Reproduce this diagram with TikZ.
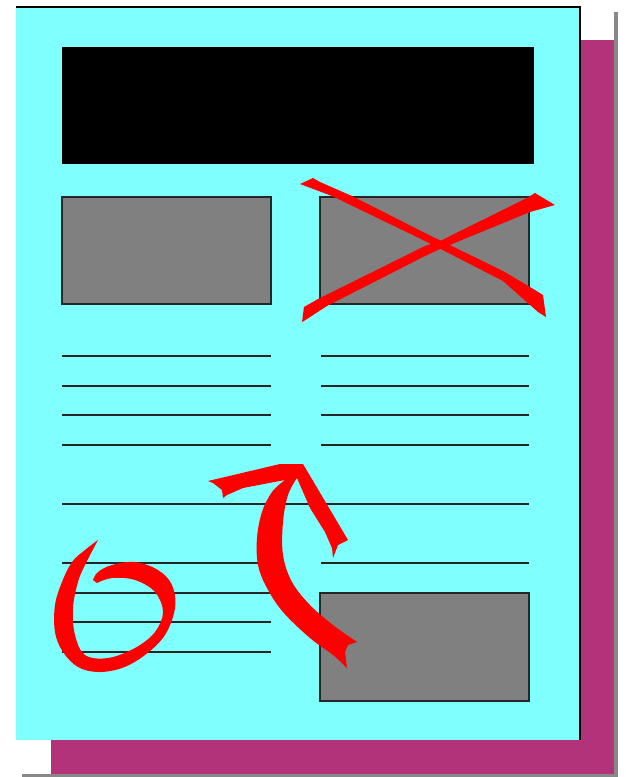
\documentclass[tikz,border=0pt]{standalone}
\definecolor{pagecyan}{RGB}{128,255,255}
\definecolor{shadowmag}{RGB}{178,51,122}
\definecolor{boxgray}{RGB}{128,128,128}
\definecolor{framegray}{RGB}{136,136,136}
\begin{document}
\begin{tikzpicture}[x=1pt,y=-1pt,
  picbox/.style={fill=boxgray,draw=black!85,line width=1.1pt},
  textline/.style={draw=black!85,line width=1.1pt},
  ink/.style={fill=red}]
\useasboundingbox (0,0) rectangle (625,777);
\fill[white] (0,0) rectangle (625,777);
% outer frame shadow
\fill[framegray] (22,774) rectangle (618,777);
\fill[framegray] (614,12) rectangle (618,777);
% page shadow
\fill[shadowmag] (51,40) rectangle (614,774);
% page
\fill[pagecyan] (16,7) rectangle (580,740);
\draw[line width=1.2pt] (16,7) -- (580,7) -- (580,740);
% headline
\fill[black] (62,47) rectangle (534,164);
% pictures
\draw[picbox] (62,197) rectangle (271,304);
\draw[picbox] (320,197) rectangle (529,304);
\draw[picbox] (320,593) rectangle (529,701);
% text lines
\foreach \y in {356,386,415,445}{
  \draw[textline] (62,\y) -- (271,\y);
  \draw[textline] (321,\y) -- (529,\y);
}
\draw[textline] (62,504) -- (529,504);
\draw[textline] (62,563) -- (271,563);
\draw[textline] (321,563) -- (529,563);
\foreach \y in {593,622,652}{
  \draw[textline] (62,\y) -- (271,\y);
}
% red X
\fill[ink] (300,184) -- (313,178) -- (320,182) -- (352,196) -- (425,233) -- (503,271)
  -- (535,290) -- (543,295) -- (546,317) -- (538,312) -- (503,281) -- (425,241)
  -- (332,196) -- cycle;
\fill[ink] (302,322) -- (304,307) -- (318,299) -- (425,246) -- (440,241) -- (527,198)
  -- (535,193) -- (555,205) -- (530,212) -- (440,249) -- (425,256) -- (327,306)
  -- (307,319) -- cycle;
% red curved arrow
\fill[ink] (302,464)
  -- (280,464) -- (208,481) -- (213,483) -- (222,490) -- (223,498) -- (227,495)
  -- (243,488) -- (285,480)
  -- plot[smooth,tension=0.6] coordinates {(285,480) (272,492) (262,512) (257,538) (258,565) (267,588) (283,612) (310,638) (333,655) (347,668)}
  -- (345,652) -- (348,645) -- (357,642)
  -- plot[smooth,tension=0.6] coordinates {(357,642) (333,625) (310,605) (292,582) (283,555) (283,522) (288,495) (297,478)}
  -- (310,508) -- (325,532) -- (332,548) -- (333,558) -- (338,545) -- (348,540)
  -- (303,464) -- cycle;
% red "6"
\fill[ink] (98,540)
  -- plot[smooth,tension=0.6] coordinates {(98,540) (85,550) (72,562) (62,582) (55,605) (55,632) (63,652) (78,667) (98,672) (122,668) (145,655) (165,635) (175,608) (172,585) (158,570) (135,562) (112,565) (98,572) (93,580)}
  -- (97,583)
  -- plot[smooth,tension=0.6] coordinates {(97,583) (112,578) (135,580) (155,592) (163,612) (155,632) (135,648) (108,658) (85,655) (75,635) (73,608) (78,582) (85,565) (98,540)}
  -- cycle;
\end{tikzpicture}
\end{document}
